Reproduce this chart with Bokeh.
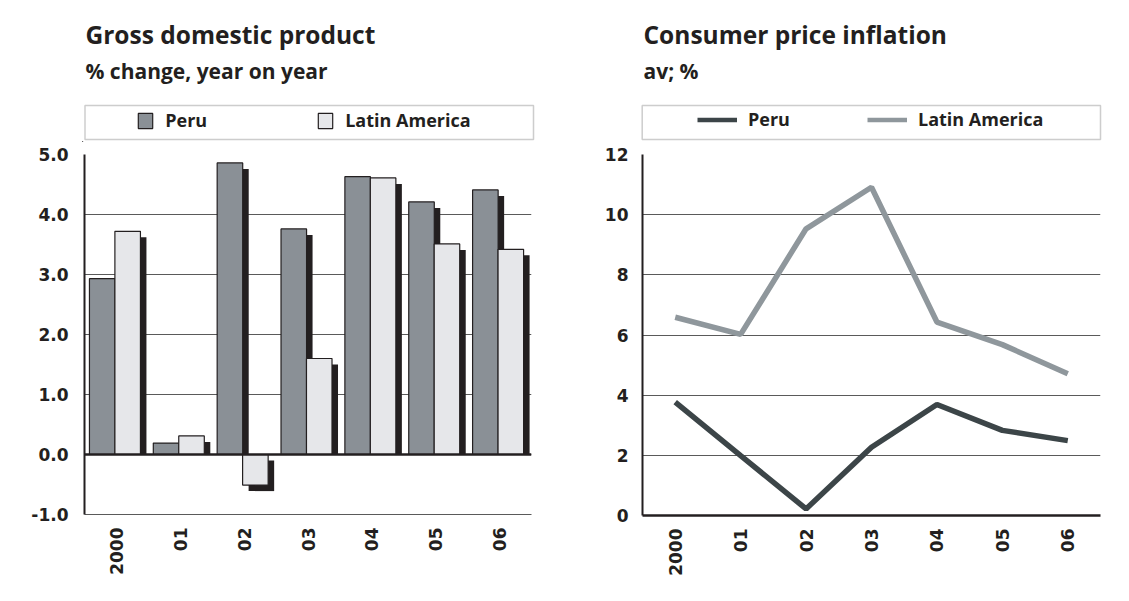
import numpy as np
from bokeh.plotting import figure
from bokeh.models import (Range1d, FixedTicker, Label, BoxAnnotation, Legend,
                          LegendItem, Span, NumeralTickFormatter)
from bokeh.layouts import row, column
from bokeh.embed import file_html
from bokeh.resources import INLINE

# ---- data -------------------------------------------------------------
years = ["2000", "01", "02", "03", "04", "05", "06"]
gdp_peru = [2.93, 0.19, 4.86, 3.76, 4.63, 4.21, 4.41]
gdp_latam = [3.72, 0.31, -0.51, 1.60, 4.61, 3.51, 3.42]
cpi_peru = [3.77, 1.99, 0.22, 2.27, 3.69, 2.83, 2.49]
cpi_latam = [6.59, 6.02, 9.53, 10.91, 6.43, 5.68, 4.71]
gdp_ticks = [-1, 0, 1, 2, 3, 4, 5]
cpi_ticks = [0, 2, 4, 6, 8, 10, 12]

# ---- style ------------------------------------------------------------
INK = "#231f20"
GRID = "#5a5a5a"
PERU_BAR = "#8a9096"
LATAM_BAR = "#e6e7ea"
PERU_LINE = "#3c4548"
LATAM_LINE = "#8f979c"
TICK_FONT = "DejaVu Sans"
HEAD_FONT = "Open Sans"
HEAD_H = 142  # height of the title/legend strip above each chart
TOP_GAP = 12  # space between that strip and the top gridline


def style_axes(p, yticks, standoff_y):
    p.outline_line_color = None
    p.xgrid.grid_line_color = None
    p.ygrid.ticker = FixedTicker(ticks=yticks)
    p.ygrid.grid_line_color = GRID
    p.ygrid.grid_line_width = 1
    p.yaxis.ticker = FixedTicker(ticks=yticks)
    p.xaxis.ticker = FixedTicker(ticks=[i + 0.5 for i in range(len(years))])
    p.xaxis.major_label_overrides = {i + 0.5: y for i, y in enumerate(years)}
    p.xaxis.major_label_orientation = np.pi / 2
    for ax in (p.xaxis, p.yaxis):
        ax.major_tick_line_color = None
        ax.minor_tick_line_color = None
        ax.major_tick_in = 0
        ax.major_tick_out = 0
        ax.minor_tick_in = 0
        ax.minor_tick_out = 0
        ax.major_label_text_font = TICK_FONT
        ax.major_label_text_font_style = "bold"
        ax.major_label_text_font_size = "17px"
        ax.major_label_text_color = INK
    p.yaxis.major_label_standoff = standoff_y
    p.xaxis.major_label_standoff = 13
    p.yaxis.axis_line_color = INK
    p.yaxis.axis_line_width = 2


def header(total_w, left, frame_w, title, subtitle, box_l, box_r):
    h = figure(width=total_w, height=HEAD_H, frame_width=frame_w,
               frame_height=HEAD_H, min_border_left=left,
               min_border_right=total_w - left - frame_w, min_border_top=0,
               min_border_bottom=0, x_range=Range1d(0, frame_w),
               y_range=Range1d(0, HEAD_H), x_axis_type=None, y_axis_type=None,
               output_backend="svg", toolbar_location=None)
    h.outline_line_color = None
    h.xgrid.visible = False
    h.ygrid.visible = False
    h.add_layout(Label(x=3, y=HEAD_H - 33.5, x_units="screen",
                       y_units="screen", text=title, text_font=HEAD_FONT,
                       text_font_style="bold", text_font_size="24.5px",
                       text_color=INK, text_baseline="middle"))
    h.add_layout(Label(x=3, y=HEAD_H - 70.5, x_units="screen",
                       y_units="screen", text=subtitle, text_font=HEAD_FONT,
                       text_font_style="bold", text_font_size="21px",
                       text_color=INK, text_baseline="middle"))
    h.add_layout(BoxAnnotation(left=box_l, right=box_r, bottom=HEAD_H - 139,
                               top=HEAD_H - 105, left_units="screen",
                               right_units="screen", bottom_units="screen",
                               top_units="screen", fill_alpha=0,
                               line_color=GRID, line_width=1.5))
    return h


def legend(items, x, y, glyph_w, label_w, spacing, standoff):
    return Legend(items=items, location=(x, y), orientation="horizontal",
                  glyph_width=glyph_w, glyph_height=19, label_height=19,
                  label_width=label_w, label_standoff=standoff,
                  spacing=spacing, padding=0, margin=0,
                  border_line_color=None, background_fill_alpha=0,
                  label_text_font=HEAD_FONT, label_text_font_style="bold",
                  label_text_font_size="18px", label_text_color=INK)


# ---- GDP bars ---------------------------------------------------------
p1 = figure(frame_width=447, frame_height=360, min_border_left=84,
            min_border_right=29, min_border_top=TOP_GAP, min_border_bottom=87,
            x_range=Range1d(0, 7), y_range=Range1d(-1, 5),
            output_backend="svg", toolbar_location=None)
style_axes(p1, gdp_ticks, 16)
p1.yaxis.formatter = NumeralTickFormatter(format="0.0")
p1.xaxis.axis_line_color = GRID
p1.xaxis.axis_line_width = 1

idx = np.arange(len(years))
bar_w = 0.4
peru_x = idx + 0.2775
latam_x = idx + 0.676
sh_dx, sh_dy = 0.094, 0.1  # drop shadow offset (right / down)


def shadow(xc, vals):
    v = np.asarray(vals, dtype=float)
    top = np.where(v > 0, v - sh_dy, -sh_dy)
    bottom = np.where(v > 0, 0.0, v - sh_dy)
    return dict(left=xc - bar_w / 2 + sh_dx, right=xc + bar_w / 2 + sh_dx,
                top=top, bottom=bottom)


for xc, vals in ((peru_x, gdp_peru), (latam_x, gdp_latam)):
    p1.quad(**shadow(xc, vals), fill_color=INK, line_color=None)

p1.vbar(x=peru_x, top=gdp_peru, bottom=0, width=bar_w,
        fill_color=PERU_BAR, line_color=INK, line_width=1.2)
p1.vbar(x=latam_x, top=gdp_latam, bottom=0, width=bar_w,
        fill_color=LATAM_BAR, line_color=INK, line_width=1.2)
p1.add_layout(Span(location=0, dimension="width", line_color=INK,
                   line_width=2.5, level="overlay"))

h1 = header(560, 82, 453, "Gross domestic product", "% change, year on year",
            2.5, 451)
# legend swatches: single off-canvas points that only carry the series styles
k_peru = h1.vbar(x=[-500], top=[1], width=1, fill_color=PERU_BAR,
                 line_color=INK, line_width=1.2)
k_latam = h1.vbar(x=[-500], top=[1], width=1, fill_color=LATAM_BAR,
                  line_color=INK, line_width=1.2)
h1.add_layout(legend([LegendItem(label="Peru", renderers=[k_peru]),
                      LegendItem(label="Latin America", renderers=[k_latam])],
                     54.2, HEAD_H - 132.4, 18, 125, 26, 11))

# ---- CPI lines --------------------------------------------------------
p2 = figure(frame_width=458, frame_height=361, min_border_left=82,
            min_border_right=29, min_border_top=TOP_GAP, min_border_bottom=86,
            x_range=Range1d(0, 7), y_range=Range1d(0, 12),
            output_backend="svg", toolbar_location=None)
style_axes(p2, cpi_ticks, 14)
p2.xaxis.axis_line_color = INK
p2.xaxis.axis_line_width = 2.5

pts = idx + 0.5
p2.line(pts, cpi_latam, line_color=LATAM_LINE, line_width=5.5)
p2.line(pts, cpi_peru, line_color=PERU_LINE, line_width=5.5)

h2 = header(569, 80, 463, "Consumer price inflation", "av; %", 1.7, 460)
k_peru_l = h2.line(x=[-500, -400], y=[1, 1], line_color=PERU_LINE,
                   line_width=4.5)
k_latam_l = h2.line(x=[-500, -400], y=[1, 1], line_color=LATAM_LINE,
                    line_width=4.5)
h2.add_layout(legend([LegendItem(label="Peru", renderers=[k_peru_l]),
                      LegendItem(label="Latin America", renderers=[k_latam_l])],
                     57, HEAD_H - 131.2, 40, 115, 4, 11))

layout = column(row(h1, h2, spacing=0), row(p1, p2, spacing=0), spacing=0)
open("out.html", "w").write(file_html(layout, INLINE))
